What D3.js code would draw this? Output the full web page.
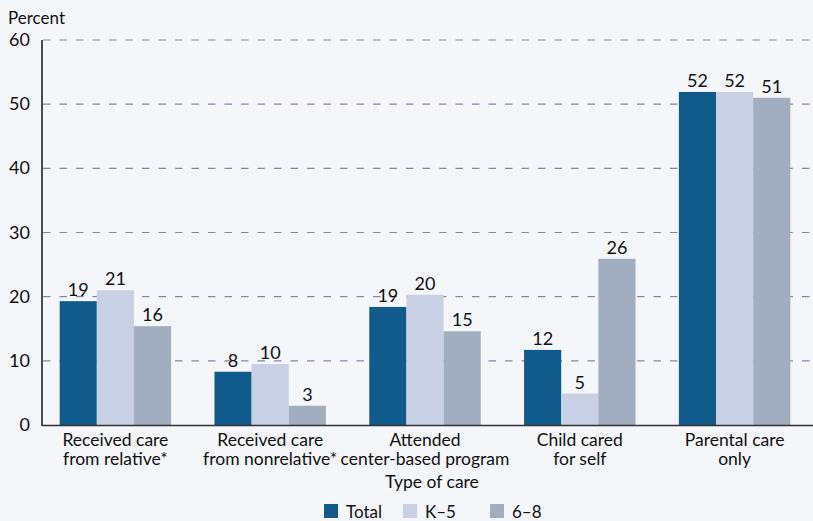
<!DOCTYPE html>
<html>
<head>
<meta charset="utf-8">
<script src="https://cdn.jsdelivr.net/npm/d3@7"></script>
<style>
  body { margin: 0; background: #f4f6fa; }
  svg text { font-family: Lato, "Open Sans", sans-serif; fill: #111; }
</style>
</head>
<body>
<div id="area"></div>
<script>
// categories (two lines each) and series
var categories = ["relative", "nonrelative", "center", "self", "parental"];
var catLabels = [
    ["Received care", "from relative*"],
    ["Received care", "from nonrelative*"],
    ["Attended", "center-based program"],
    ["Child cared", "for self"],
    ["Parental care", "only"]
];
var seriesNames = ["Total", "K\u20135", "6\u20138"];
var totalVals = [19.3, 8.3, 18.4, 11.7, 51.9];
var k5Vals = [21.0, 9.5, 20.3, 4.9, 51.9];
var g68Vals = [15.4, 3.0, 14.6, 25.9, 51.0];
var totalLabels = ["19", "8", "19", "12", "52"];
var k5Labels = ["21", "10", "20", "5", "52"];
var g68Labels = ["16", "3", "15", "26", "51"];
var yTicks = [0, 10, 20, 30, 40, 50, 60];
var colors = ["#115a8c", "#c9d0e3", "#a2adc0"];

var W = 813, H = 521;
var svg = d3.select("#area").append("svg")
    .attr("width", W).attr("height", H);

var x = d3.scaleBand().domain(categories).range([38, 812])
    .paddingInner(0.28).paddingOuter(0.14);
var xs = d3.scaleBand().domain(seriesNames).range([0, x.bandwidth()]);
var y = d3.scaleLinear().domain([0, 60]).range([425, 40]);

// gridlines
svg.append("g").selectAll("line")
    .data(yTicks.filter(function (d) { return d > 0; }))
    .join("line")
    .attr("x1", 43).attr("x2", W)
    .attr("y1", function (d) { return y(d); })
    .attr("y2", function (d) { return y(d); })
    .attr("stroke", "#7b8ba8").attr("stroke-width", 1.2)
    .attr("stroke-dasharray", "7.5,9");

// bars
var series = [
    { name: seriesNames[0], vals: totalVals, labels: totalLabels },
    { name: seriesNames[1], vals: k5Vals, labels: k5Labels },
    { name: seriesNames[2], vals: g68Vals, labels: g68Labels }
];
series.forEach(function (s, si) {
    var g = svg.append("g");
    g.selectAll("rect").data(categories).join("rect")
        .attr("x", function (c) { return x(c) + xs(s.name); })
        .attr("width", xs.bandwidth())
        .attr("y", function (c, i) { return y(s.vals[i]); })
        .attr("height", function (c, i) { return y(0) - y(s.vals[i]); })
        .attr("fill", colors[si]);
    g.selectAll("text").data(categories).join("text")
        .attr("x", function (c) { return x(c) + xs(s.name) + xs.bandwidth() / 2; })
        .attr("y", function (c, i) { return y(s.vals[i]) - 5; })
        .attr("text-anchor", "middle")
        .style("font-size", "18px")
        .text(function (c, i) { return s.labels[i]; });
});

// axes lines
svg.append("line").attr("x1", 42).attr("x2", 42).attr("y1", 40).attr("y2", 426)
    .attr("stroke", "#222").attr("stroke-width", 1.6);
svg.append("line").attr("x1", 42).attr("x2", W).attr("y1", 425.5).attr("y2", 425.5)
    .attr("stroke", "#333").attr("stroke-width", 1.6);

// y tick labels
svg.append("g").selectAll("text").data(yTicks).join("text")
    .attr("x", 30)
    .attr("y", function (d) { return y(d) + 6; })
    .attr("text-anchor", "end")
    .style("font-size", "18px")
    .text(function (d) { return d; });

svg.append("text").attr("x", 8).attr("y", 24)
    .style("font-size", "17px").text("Percent");

// category labels, one text per line
categories.forEach(function (c, i) {
    catLabels[i].forEach(function (line, li) {
        svg.append("text")
            .attr("x", x(c) + x.bandwidth() / 2)
            .attr("y", 446 + li * 19)
            .attr("text-anchor", "middle")
            .style("font-size", "17.5px")
            .text(line);
    });
});

svg.append("text").attr("x", 432).attr("y", 488)
    .attr("text-anchor", "middle").style("font-size", "17.5px")
    .text("Type of care");

// legend
var legX = [324, 403, 490];
var leg = svg.append("g").selectAll("g").data(seriesNames).join("g")
    .attr("transform", function (d, i) { return "translate(" + legX[i] + ",504)"; });
leg.append("rect").attr("width", 14).attr("height", 14)
    .attr("fill", function (d, i) { return colors[i]; });
leg.append("text").attr("x", 22).attr("y", 13.5)
    .style("font-size", "17px").text(function (d) { return d; });
</script>
</body>
</html>
